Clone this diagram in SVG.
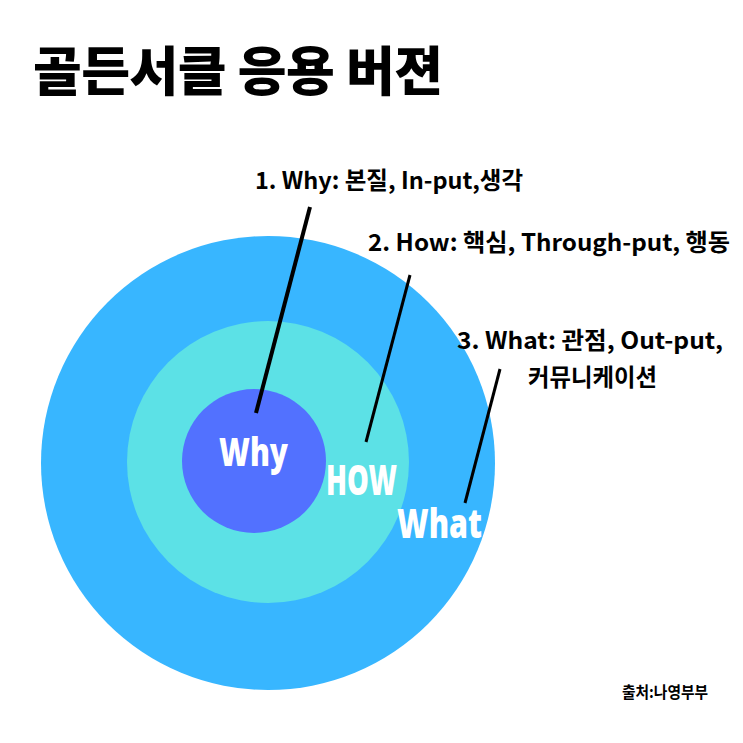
<svg xmlns="http://www.w3.org/2000/svg" width="743" height="743" viewBox="0 0 743 743">
<style>
.kr{font-family:"Noto Sans CJK KR","Noto Sans",sans-serif;fill:#000}
.title{font-size:53px;font-weight:900}
.lab{font-size:23.5px;font-weight:700}
.ring{font-family:"Noto Sans","Open Sans",sans-serif;font-weight:900;fill:#fff}
.line{stroke:#000;stroke-linecap:butt}
</style>
<rect width="743" height="743" fill="#fff"/>
<text class="kr title" x="33" y="91" textLength="410" lengthAdjust="spacing">골든서클 응용 버젼</text>
<g id="what">
<circle cx="268" cy="463" r="227" fill="#38B6FF"/>
</g>
<g id="how">
<circle cx="268" cy="462" r="141" fill="#5CE1E6"/>
</g>
<g id="why">
<circle cx="254" cy="461" r="72" fill="#5271FF"/>
<text class="ring" x="219" y="466" font-size="39" textLength="69" lengthAdjust="spacingAndGlyphs">Why</text>
</g>
<text class="ring" x="326" y="495" font-size="42" textLength="71" lengthAdjust="spacingAndGlyphs">HOW</text>
<text class="ring" x="397" y="538" font-size="40" textLength="85" lengthAdjust="spacingAndGlyphs">What</text>
<g id="connectors">
<line class="line" x1="310" y1="207" x2="256" y2="413" stroke-width="4"/>
<line class="line" x1="410" y1="275" x2="366" y2="442" stroke-width="3"/>
<line class="line" x1="500" y1="369" x2="465" y2="503" stroke-width="3"/>
</g>
<g id="labels">
<text class="kr lab" x="255" y="189" textLength="268" lengthAdjust="spacingAndGlyphs">1. Why: 본질, In-put,생각</text>
<text class="kr lab" x="368" y="251" textLength="362" lengthAdjust="spacingAndGlyphs">2. How: 핵심, Through-put, 행동</text>
<text class="kr lab" x="457" y="349" textLength="266" lengthAdjust="spacingAndGlyphs">3. What: 관점, Out-put,</text>
<text class="kr lab" x="528" y="386" textLength="129" lengthAdjust="spacingAndGlyphs">커뮤니케이션</text>
</g>
<text class="kr" x="622" y="698" font-size="16" font-weight="700" textLength="86" lengthAdjust="spacingAndGlyphs">출처:나영부부</text>
</svg>
